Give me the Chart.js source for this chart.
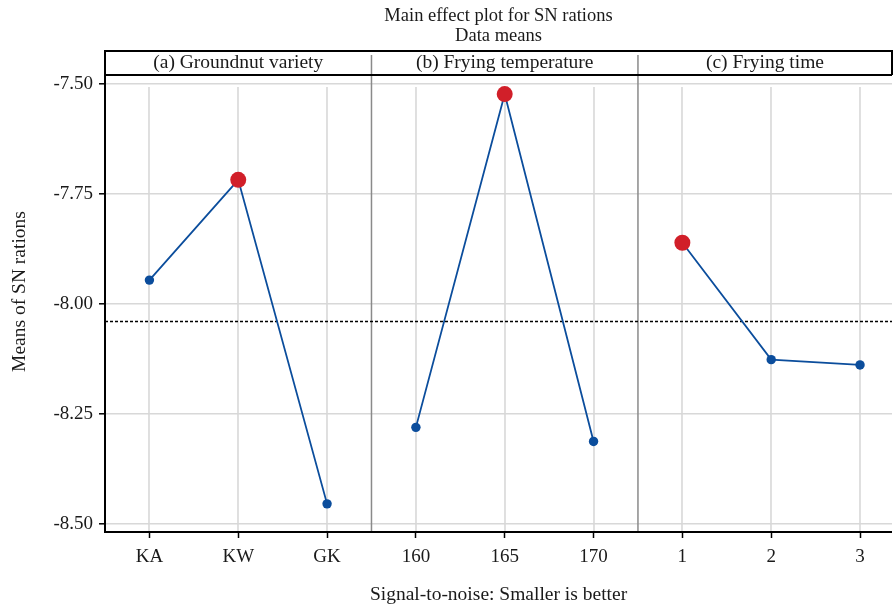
<!DOCTYPE html>
<html>
<head>
<meta charset="utf-8">
<title>Main effect plot for SN rations</title>
<script src="https://cdn.jsdelivr.net/npm/chart.js@4.4.1/dist/chart.umd.min.js"></script>
<style>
html, body { margin: 0; padding: 0; background: #fff; }
canvas { display: block; }
</style>
</head>
<body>
<canvas id="mainEffectChart" width="893" height="607"></canvas>
<script>
// factor levels and SN ratio means
var panelNames = ['(a) Groundnut variety', '(b) Frying temperature', '(c) Frying time'];
var varietyLevels = ['KA', 'KW', 'GK'];
var temperatureLevels = ['160', '165', '170'];
var timeLevels = ['1', '2', '3'];
var varietySN = [-7.946, -7.718, -8.455];
var temperatureSN = [-8.281, -7.523, -8.313];
var timeSN = [-7.861, -8.127, -8.139];
var yTicks = [-8.50, -8.25, -8.00, -7.75, -7.50];

var fontFamily = '"Liberation Serif", "Times New Roman", serif';
var blue = '#0b4d9c';
var red = '#d11f29';
var gridColor = '#d8d8d8';

var values = [varietySN, temperatureSN, timeSN];
var categories = [].concat(varietyLevels, temperatureLevels, timeLevels);
var xMin = -0.5, xMax = 8.36;

var allValues = [].concat(varietySN, temperatureSN, timeSN);
var grandMean = allValues.reduce(function(a, b) { return a + b; }, 0) / allValues.length;

var panelDatasets = values.map(function(vals, p) {
	var best = vals.indexOf(Math.max.apply(null, vals));
	return {
		label: panelNames[p],
		data: vals.map(function(v, i) { return { x: p * 3 + i, y: v }; }),
		borderColor: blue,
		borderWidth: 1.8,
		pointBackgroundColor: vals.map(function(v, i) { return i === best ? red : blue; }),
		pointBorderWidth: 0,
		pointRadius: vals.map(function(v, i) { return i === best ? 8 : 4.7; }),
		tension: 0
	};
});

var meanDataset = {
	label: 'Mean',
	data: [{ x: xMin, y: grandMean }, { x: xMax, y: grandMean }],
	borderColor: '#000',
	borderWidth: 1.4,
	borderDash: [3, 2],
	pointRadius: 0
};

// panel frame, strips, separators and titles
var facetPlugin = {
	id: 'facets',
	beforeDatasetsDraw: function(chart) {
		var ctx = chart.ctx, area = chart.chartArea, xs = chart.scales.x;
		ctx.save();
		ctx.strokeStyle = gridColor;
		ctx.lineWidth = 1.6;
		categories.forEach(function(c, i) {
			var x = Math.round(xs.getPixelForValue(i));
			ctx.beginPath();
			ctx.moveTo(x, area.top + 12);
			ctx.lineTo(x, area.bottom);
			ctx.stroke();
		});
		ctx.strokeStyle = '#8a8a8a';
		ctx.lineWidth = 1.5;
		[2.5, 5.5].forEach(function(v) {
			var x = xs.getPixelForValue(v);
			ctx.beginPath();
			ctx.moveTo(x, 55);
			ctx.lineTo(x, area.bottom);
			ctx.stroke();
		});
		ctx.restore();
	},
	afterDraw: function(chart) {
		var ctx = chart.ctx, area = chart.chartArea, xs = chart.scales.x;
		var stripTop = 51;
		ctx.save();
		ctx.strokeStyle = '#000';
		ctx.lineWidth = 2;
		ctx.beginPath();
		ctx.moveTo(area.left, stripTop);
		ctx.lineTo(area.right, stripTop);
		ctx.lineTo(area.right, area.top);
		ctx.moveTo(area.left, area.top);
		ctx.lineTo(area.right, area.top);
		ctx.moveTo(area.left, stripTop - 1);
		ctx.lineTo(area.left, area.bottom);
		ctx.lineTo(area.right, area.bottom);
		ctx.stroke();

		ctx.fillStyle = '#1a1a1a';
		ctx.font = '19.5px ' + fontFamily;
		ctx.textAlign = 'center';
		ctx.textBaseline = 'middle';
		var edges = [area.left, xs.getPixelForValue(2.5), xs.getPixelForValue(5.5), area.right];
		panelNames.forEach(function(name, p) {
			ctx.fillText(name, (edges[p] + edges[p + 1]) / 2, (stripTop + area.top) / 2);
		});

		var cx = (area.left + area.right) / 2;
		ctx.fillText('Signal-to-noise: Smaller is better', cx, 595);
		ctx.font = '18.5px ' + fontFamily;
		ctx.fillText('Main effect plot for SN rations', cx, 16);
		ctx.fillText('Data means', cx, 36);

		ctx.font = '19.5px ' + fontFamily;
		ctx.translate(20, (stripTop + area.bottom) / 2);
		ctx.rotate(-Math.PI / 2);
		ctx.fillText('Means of SN rations', 0, 0);
		ctx.restore();
	}
};

var mainEffectChart = new Chart(document.getElementById('mainEffectChart'), {
	type: 'line',
	data: {
		datasets: panelDatasets.concat([meanDataset])
	},
	options: {
		responsive: false,
		animation: false,
		layout: { autoPadding: false, padding: { top: 75, right: 1, left: 0, bottom: 0 } },
		plugins: {
			legend: { display: false },
			tooltip: { enabled: false },
			title: { display: false }
		},
		scales: {
			x: {
				type: 'linear',
				min: xMin,
				max: xMax,
				afterBuildTicks: function(scale) {
					scale.ticks = categories.map(function(c, i) { return { value: i }; });
				},
				afterFit: function(scale) {
					scale.height = 75;
					scale.paddingLeft = 0;
					scale.paddingRight = 0;
				},
				ticks: {
					autoSkip: false,
					maxRotation: 0,
					padding: 8,
					color: '#1a1a1a',
					font: { family: fontFamily, size: 19 },
					callback: function(value) { return categories[value]; }
				},
				grid: {
					drawOnChartArea: false,
					tickLength: 6,
					tickColor: '#000',
					tickWidth: 1.5
				},
				border: { display: false }
			},
			y: {
				min: -8.519,
				max: -7.4795,
				afterBuildTicks: function(scale) {
					scale.ticks = yTicks.map(function(v) { return { value: v }; });
				},
				afterFit: function(scale) { scale.width = 105; },
				ticks: {
					padding: 6,
					color: '#1a1a1a',
					font: { family: fontFamily, size: 19 },
					callback: function(value) { return value.toFixed(2); }
				},
				grid: {
					color: gridColor,
					lineWidth: 1.6,
					tickLength: 6,
					tickColor: '#000',
					tickWidth: 1.5
				},
				border: { display: false }
			}
		}
	},
	plugins: [facetPlugin]
});
</script>
</body>
</html>
